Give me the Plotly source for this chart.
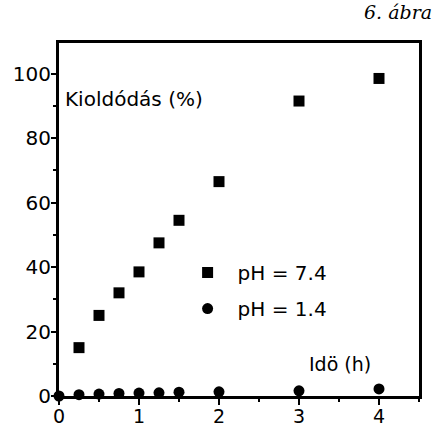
import plotly.graph_objects as go

time_h = [0.25, 0.5, 0.75, 1.0, 1.25, 1.5, 2.0, 3.0, 4.0]
release_ph74 = [15, 25, 32, 38.5, 47.5, 54.5, 66.5, 91.5, 98.5]
time_h_acid = [0, 0.25, 0.5, 0.75, 1.0, 1.25, 1.5, 2.0, 3.0, 4.0]
release_ph14 = [0, 0.4, 0.6, 0.8, 0.9, 1.0, 1.2, 1.3, 1.6, 2.2]
x_ticks = [0, 1, 2, 3, 4]
y_ticks = [0, 20, 40, 60, 80, 100]

fig = go.Figure()
fig.add_trace(go.Scatter(
    x=time_h, y=release_ph74, mode="markers", name="pH = 7.4",
    legendgroup="a",
    marker=dict(symbol="square", size=11, color="black"),
    cliponaxis=False,
))
fig.add_trace(go.Scatter(
    x=time_h_acid, y=release_ph14, mode="markers", name="pH = 1.4",
    legendgroup="b",
    marker=dict(symbol="circle", size=11, color="black"),
    cliponaxis=False,
))

font_main = "DejaVu Sans, Arial, sans-serif"

fig.update_layout(
    width=439, height=428,
    margin=dict(l=59, r=20, t=43, b=32),
    paper_bgcolor="white", plot_bgcolor="white",
    font=dict(family=font_main, size=19, color="black"),
    showlegend=True,
    legend=dict(
        x=0.36 - 11 / 360, y=0.405, xanchor="left", yanchor="top",
        bgcolor="rgba(0,0,0,0)", font=dict(size=20, family=font_main),
        tracegroupgap=7, traceorder="grouped", itemwidth=50,
    ),
    xaxis=dict(
        range=[0, 4.5], tickvals=x_ticks, ticktext=[str(v) for v in x_ticks],
        showgrid=False, zeroline=False,
        showline=True, linecolor="black", linewidth=3, mirror=True,
        ticks="outside", ticklen=6, tickwidth=2, tickcolor="black",
        minor=dict(dtick=0.5, ticks="outside", ticklen=3, tickwidth=2, tickcolor="black"),
        tickfont=dict(size=19), automargin=False, ticklabelstandoff=-5,
    ),
    yaxis=dict(
        range=[0, 109.5], tickvals=y_ticks, ticktext=[str(v) for v in y_ticks],
        showgrid=False, zeroline=False,
        showline=True, linecolor="black", linewidth=3, mirror=True,
        ticks="outside", ticklen=5, tickwidth=2, tickcolor="black",
        minor=dict(dtick=10, ticks="outside", ticklen=3, tickwidth=2, tickcolor="black"),
        tickfont=dict(size=20), automargin=False, ticklabelstandoff=-4,
    ),
    annotations=[
        dict(text="Kioldódás (%)", xref="paper", yref="paper", x=0.01, y=0.84,
             xanchor="left", yanchor="middle", showarrow=False,
             font=dict(size=20, family=font_main)),
        dict(text="Idö (h)", xref="paper", yref="paper", x=0.69, y=0.09,
             xanchor="left", yanchor="middle", showarrow=False,
             font=dict(size=19, family=font_main)),
        dict(text="6. ábra", xref="paper", yref="paper", x=(434 - 59) / 360,
             y=(428 - 32 - 12) / 353,
             xanchor="right", yanchor="middle", showarrow=False,
             font=dict(size=19, family="DejaVu Serif", style="italic")),
    ],
)

fig.write_html("out.html", config={"displayModeBar": False},
               post_script="document.body.style.margin='0';document.body.style.padding='0';")
